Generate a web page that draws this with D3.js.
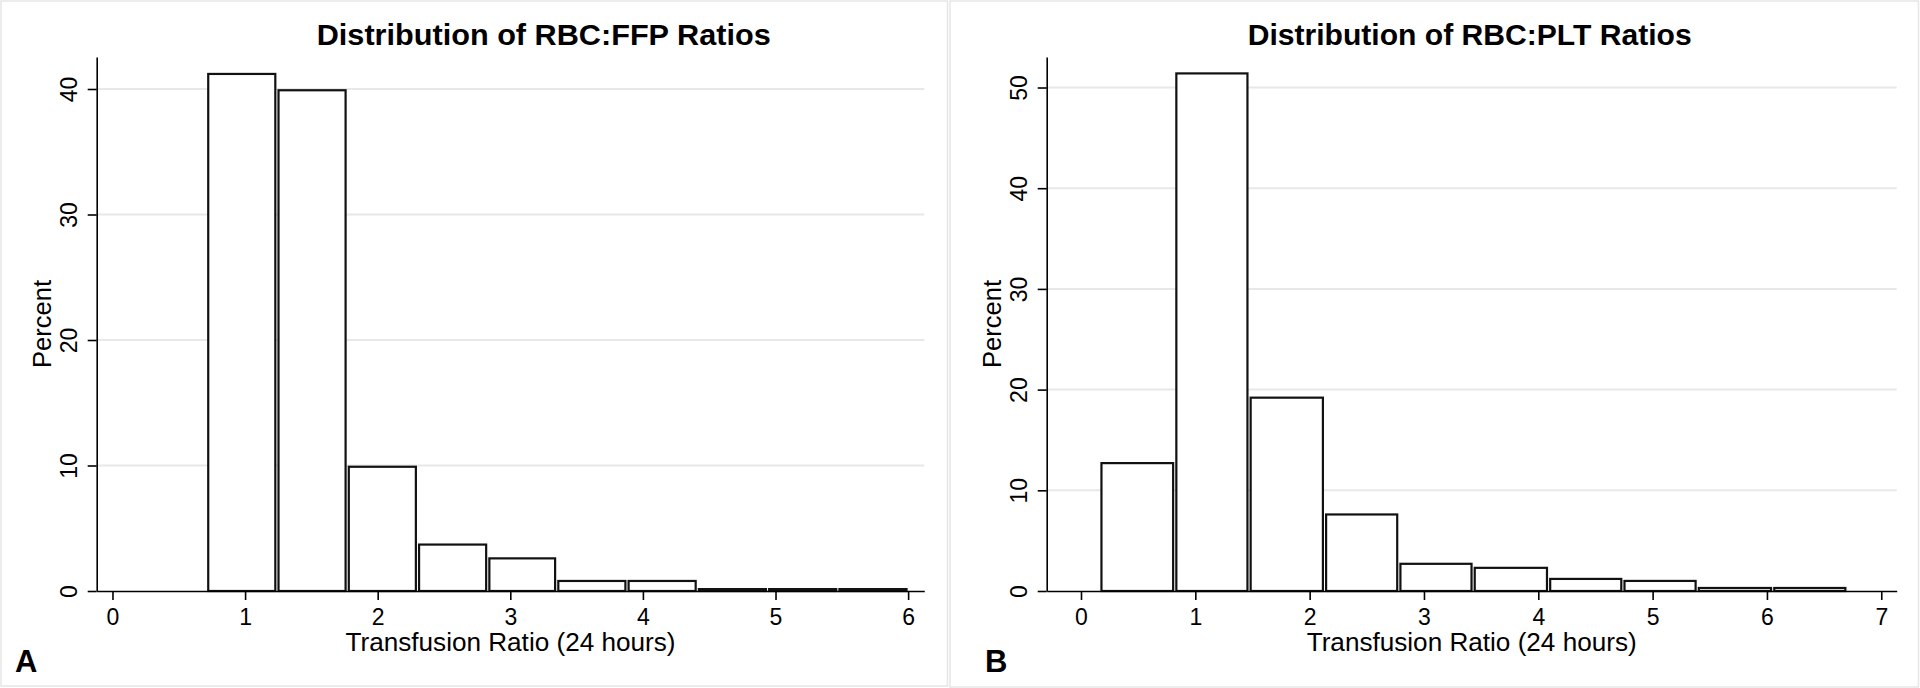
<!DOCTYPE html>
<html>
<head>
<meta charset="utf-8">
<script src="https://cdn.jsdelivr.net/npm/d3@7"></script>
<style>
  html, body { margin: 0; padding: 0; background: #ffffff; }
  svg { display: block; }
  text { font-family: "Liberation Sans", Arial, sans-serif; fill: #000; }
</style>
</head>
<body>
<svg id="chart" width="1920" height="688"></svg>
<script>
// ---------- DATA ----------
const ffpTitle = "Distribution of RBC:FFP Ratios";
const pltTitle = "Distribution of RBC:PLT Ratios";
const xAxisTitle = "Transfusion Ratio (24 hours)";
const yAxisTitle = "Percent";

// bin edges (transfusion ratio) and percentages
const ffpEdges = [0.71, 1.24, 1.77, 2.30, 2.83, 3.35, 3.88, 4.41, 4.94, 5.47, 6.00];
const ffpPercent = [41.2, 39.9, 9.9, 3.7, 2.6, 0.8, 0.8, 0.15, 0.15, 0.15];
const pltEdges = [0.165, 0.82, 1.47, 2.13, 2.78, 3.43, 4.09, 4.74, 5.39, 6.05, 6.70];
const pltPercent = [12.7, 51.4, 19.2, 7.6, 2.7, 2.3, 1.2, 1.0, 0.3, 0.3];

const ffpXTicks = [0, 1, 2, 3, 4, 5, 6];
const pltXTicks = [0, 1, 2, 3, 4, 5, 6, 7];
const ffpYTicks = [0, 10, 20, 30, 40];
const pltYTicks = [0, 10, 20, 30, 40, 50];
const panelLetters = ["A", "B"];

// ---------- DRAW ----------
const svg = d3.select("#chart");

function panel(cfg) {
  const g = svg.append("g");
  // panel frame
  g.append("rect")
    .attr("x", cfg.frame[0]).attr("y", cfg.frame[1])
    .attr("width", cfg.frame[2]).attr("height", cfg.frame[3])
    .attr("fill", "#ffffff").attr("stroke", "#e6e6e6").attr("stroke-width", 1.5);

  const x = d3.scaleLinear().domain(cfg.xDomain).range(cfg.xRange);
  const y = d3.scaleLinear().domain(cfg.yDomain).range(cfg.yRange);

  // gridlines
  g.append("g").selectAll("line")
    .data(cfg.yTicks.filter(d => d !== 0))
    .join("line")
    .attr("x1", cfg.xRange[0]).attr("x2", cfg.xRange[1])
    .attr("y1", d => y(d)).attr("y2", d => y(d))
    .attr("stroke", "#e8e8e8").attr("stroke-width", 2);

  // bars
  const bins = cfg.values.map((v, i) => ({ x0: cfg.edges[i], x1: cfg.edges[i + 1], v }));
  g.append("g").selectAll("rect")
    .data(bins)
    .join("rect")
    .attr("x", d => x(d.x0) + 1.6)
    .attr("width", d => x(d.x1) - x(d.x0) - 3.2)
    .attr("y", d => y(d.v))
    .attr("height", d => y(0) - y(d.v))
    .attr("fill", "#ffffff")
    .attr("stroke", "#111")
    .attr("stroke-width", 2.2);

  // x axis
  const xa = g.append("g")
    .attr("transform", `translate(0,${cfg.yRange[0]})`)
    .call(d3.axisBottom(x).tickValues(cfg.xTicks).tickSize(9).tickSizeOuter(0).tickPadding(6).tickFormat(d3.format("d")));
  xa.select(".domain").attr("stroke", "#000").attr("stroke-width", 1.6);
  xa.selectAll(".tick line").attr("stroke", "#000").attr("stroke-width", 1.6);
  xa.selectAll(".tick text")
    .attr("font-size", 23).attr("font-family", "Liberation Sans, Arial, sans-serif")
    .attr("dy", null).attr("y", 33.5);

  // y axis
  const ya = g.append("g")
    .attr("transform", `translate(${cfg.xRange[0]},0)`)
    .call(d3.axisLeft(y).tickValues(cfg.yTicks).tickSize(9).tickSizeOuter(0).tickFormat(d3.format("d")));
  ya.select(".domain").attr("stroke", "#000").attr("stroke-width", 1.6);
  ya.selectAll(".tick line").attr("stroke", "#000").attr("stroke-width", 1.6);
  ya.selectAll(".tick text")
    .attr("font-size", 23).attr("font-family", "Liberation Sans, Arial, sans-serif")
    .attr("text-anchor", "middle")
    .attr("transform", "rotate(-90)")
    .attr("x", 0).attr("dy", null).attr("y", -19.5);

  // title
  g.append("text")
    .attr("x", cfg.titleX).attr("y", 44.5)
    .attr("text-anchor", "middle")
    .attr("font-size", 29).attr("font-weight", "bold")
    .attr("textLength", cfg.titleLen).attr("lengthAdjust", "spacingAndGlyphs")
    .text(cfg.title);

  // x axis title
  g.append("text")
    .attr("x", (cfg.xRange[0] + cfg.xRange[1]) / 2).attr("y", 651)
    .attr("text-anchor", "middle")
    .attr("font-size", 25)
    .attr("textLength", 330).attr("lengthAdjust", "spacingAndGlyphs")
    .text(xAxisTitle);

  // y axis title
  g.append("text")
    .attr("transform", `translate(${cfg.xRange[0] - 45.5},${(cfg.yRange[0] + cfg.yRange[1]) / 2}) rotate(-90)`)
    .attr("text-anchor", "middle")
    .attr("font-size", 26)
    .attr("textLength", 88).attr("lengthAdjust", "spacingAndGlyphs")
    .text(yAxisTitle);

  // panel letter
  g.append("text")
    .attr("x", cfg.letterX).attr("y", 672)
    .attr("font-size", 31).attr("font-weight", "bold")
    .text(cfg.letter);
}

panel({
  frame: [1, 1, 946.5, 685],
  xDomain: [-0.119, 6.122], xRange: [96.7, 924.3],
  yDomain: [0, 42.55], yRange: [591, 57],
  edges: ffpEdges, values: ffpPercent,
  xTicks: ffpXTicks, yTicks: ffpYTicks,
  title: ffpTitle, titleX: 543.7, titleLen: 454,
  letter: panelLetters[0], letterX: 15
});

panel({
  frame: [950, 1, 968.5, 686],
  xDomain: [-0.300, 7.135], xRange: [1046.7, 1896.7],
  yDomain: [0, 53.03], yRange: [591, 57],
  edges: pltEdges, values: pltPercent,
  xTicks: pltXTicks, yTicks: pltYTicks,
  title: pltTitle, titleX: 1469.7, titleLen: 444,
  letter: panelLetters[1], letterX: 985
});
</script>
</body>
</html>
